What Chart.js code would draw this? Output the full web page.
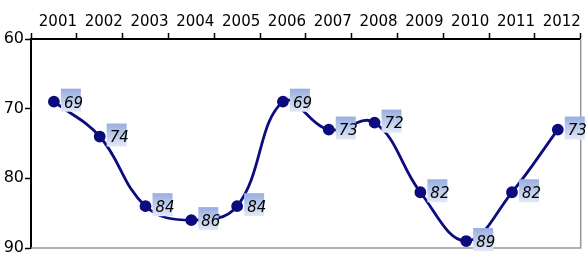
<!DOCTYPE html>
<html>
<head>
<meta charset="utf-8">
<script src="https://cdn.jsdelivr.net/npm/chart.js@4"></script>
<style>
  html, body { margin: 0; padding: 0; background: #fff; }
  #wrap { width: 588px; height: 271px; }
</style>
</head>
<body>
<div id="wrap"><canvas id="myChart" width="588" height="271"></canvas></div>
<script>
const years = ['2001', '2002', '2003', '2004', '2005', '2006', '2007', '2008', '2009', '2010', '2011', '2012'];
const values = [69, 74, 84, 86, 84, 69, 73, 72, 82, 89, 82, 73];
const yTicks = [60, 70, 80, 90];

// grey frame on right and bottom
const framePlugin = {
  id: 'frame',
  beforeDatasetsDraw(chart) {
    const { ctx, chartArea: a } = chart;
    ctx.save();
    ctx.strokeStyle = '#999';
    ctx.lineWidth = 1.5;
    ctx.beginPath();
    ctx.moveTo(a.right, a.top);
    ctx.lineTo(a.right, a.bottom);
    ctx.lineTo(a.left, a.bottom);
    ctx.stroke();
    ctx.restore();
  }
};

// value boxes next to each point
const labelPlugin = {
  id: 'valueBoxes',
  afterDatasetsDraw(chart) {
    const ctx = chart.ctx;
    const meta = chart.getDatasetMeta(0);
    ctx.save();
    meta.data.forEach((pt, i) => {
      const bx = pt.x + 7, by = pt.y - 13, bw = 20, bh = 23;
      const g = ctx.createLinearGradient(0, by, 0, by + bh);
      g.addColorStop(0, '#98aee0');
      g.addColorStop(1, '#e2e9f7');
      ctx.fillStyle = g;
      ctx.fillRect(bx, by, bw, bh);
      ctx.fillStyle = '#000';
      ctx.font = 'italic 15px "DejaVu Sans"';
      ctx.textBaseline = 'middle';
      ctx.textAlign = 'left';
      ctx.fillText(String(values[i]), pt.x + 10, pt.y + 2);
    });
    ctx.restore();
  }
};

const lineData = {
  labels: years,
  datasets: [
    {
      data: values,
      borderColor: '#0c0c7e',
      backgroundColor: '#0c0c7e',
      borderWidth: 2.8,
      pointRadius: 4.5,
      pointHoverRadius: 4.5,
      tension: 0.4,
      fill: false,
    }
  ]
};

const lineConfig = {
  type: 'line',
  data: lineData,
  options: {
    responsive: false,
    animation: false,
    layout: { padding: { left: 0, right: 5, top: 0, bottom: 23 } },
    plugins: {
      legend: { display: false },
      tooltip: { enabled: false }
    },
    scales: {
      x: {
        position: 'top',
        offset: true,
        grid: { offset: true, drawOnChartArea: false, tickLength: 6, color: '#000', tickWidth: 1.5 },
        border: { color: '#000', width: 2 },
        ticks: { color: '#000', font: { family: 'DejaVu Sans', size: 15 }, padding: 2, labelOffset: 4, maxRotation: 0, autoSkip: false },
        afterFit: (s) => { s.height = 39; }
      },
      y: {
        reverse: true,
        min: 60,
        max: 90,
        afterBuildTicks: (s) => { s.ticks = yTicks.map(v => ({ value: v })); },
        grid: { drawOnChartArea: false, tickLength: 6, color: '#000', tickWidth: 1.5 },
        border: { color: '#000', width: 2 },
        ticks: { color: '#000', font: { family: 'DejaVu Sans', size: 16 }, padding: 1 },
        afterFit: (s) => { s.width = 31; }
      }
    }
  },
  plugins: [framePlugin, labelPlugin]
};

const myChart = new Chart(document.getElementById('myChart'), lineConfig);
</script>
</body>
</html>
